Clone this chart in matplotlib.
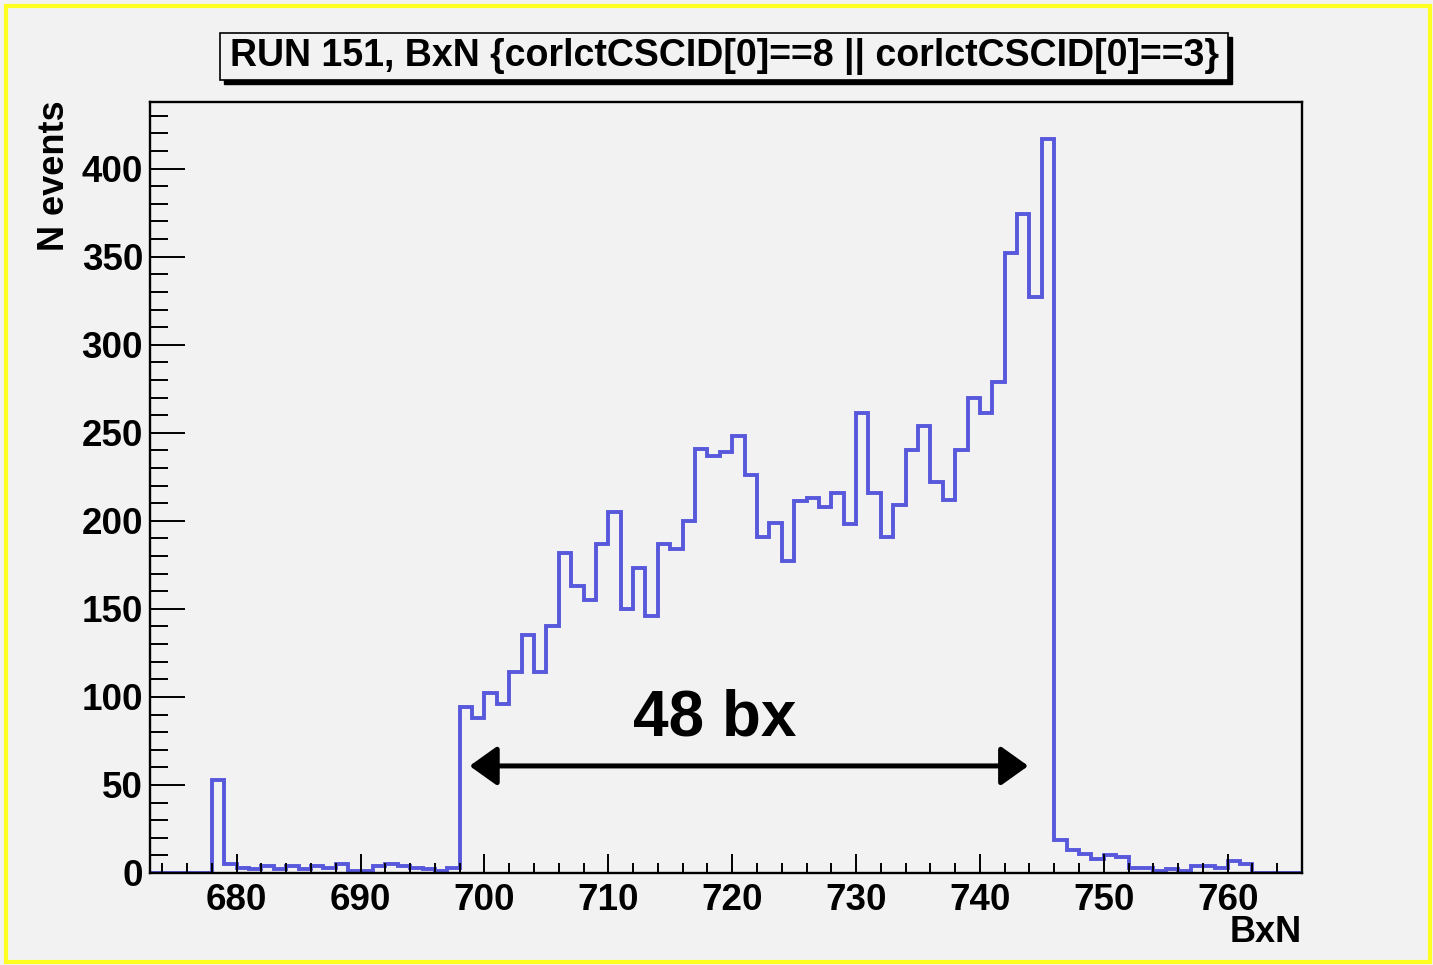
import numpy as np
import matplotlib
matplotlib.use("Agg")
import matplotlib.pyplot as plt
from matplotlib.patches import Rectangle
from matplotlib.ticker import MultipleLocator

# histogram bins: BxN from 673 to 766, width 1
bin_edges = np.arange(673, 767)
counts = [0, 0, 0, 0, 0, 53, 5, 3, 2, 4, 2, 4, 2, 4, 3, 5, 1, 1, 4, 5,
          4, 3, 2, 1, 3,
          94, 88, 102, 96, 114, 135, 114, 140, 182, 163, 155, 187, 205, 150,
          173, 146, 187, 184, 200, 241, 237, 239, 248, 226, 191, 199, 177,
          211, 213, 208, 216, 198, 261, 216, 191, 209, 240, 254, 222, 212,
          240, 270, 261, 279, 352, 374, 327, 417,
          19, 13, 11, 8, 10, 9, 3, 3, 1, 2, 1, 4, 4, 3, 7, 5, 0, 0, 0, 0]
title_text = "RUN 151, BxN {corlctCSCID[0]==8 || corlctCSCID[0]==3}"
arrow_from = 698.8
arrow_to = 743.9
arrow_y = 60.8
note_text = "48 bx"

bg = "#f2f2f2"
W, H = 1433, 965
plt.rcParams['font.family'] = ['Liberation Sans', 'DejaVu Sans']

fig = plt.figure(figsize=(W / 100, H / 100), dpi=100, facecolor=bg)
ax = fig.add_axes([150 / W, 1 - 873 / H, (1302 - 150) / W, (873 - 102) / H])
ax.set_facecolor(bg)

ax.stairs(counts, bin_edges, color="#5858dc", lw=2.8)

ax.set_xlim(673, 766)
ax.set_ylim(0, max(counts) * 1.05)

ax.xaxis.set_major_locator(MultipleLocator(10))
ax.xaxis.set_minor_locator(MultipleLocator(2))
ax.yaxis.set_major_locator(MultipleLocator(50))
ax.yaxis.set_minor_locator(MultipleLocator(10))
ax.tick_params(axis='x', which='major', direction='in', length=14, width=1.4, pad=7, labelsize=26.5)
ax.tick_params(axis='x', which='minor', direction='in', length=7, width=1.4)
ax.tick_params(axis='y', which='major', direction='in', length=25, width=1.4, pad=5, labelsize=26.5)
ax.tick_params(axis='y', which='minor', direction='in', length=13, width=1.4)
for lab in ax.get_xticklabels() + ax.get_yticklabels():
    lab.set_fontweight('bold')
for s in ax.spines.values():
    s.set_linewidth(1.7)

fig.text(55 / W, 1 - 100 / H, "N events", rotation=90, ha='center', va='top',
         fontsize=26, fontweight='bold')
fig.text(1302 / W, 1 - 932 / H, "BxN", ha='right', va='center',
         fontsize=26, fontweight='bold')

# arrow and label
ax.annotate('', xy=(arrow_from, arrow_y), xytext=(arrow_to, arrow_y),
            arrowprops=dict(arrowstyle='<|-|>,head_length=0.42,head_width=0.3',
                            lw=3.6, color='black', mutation_scale=40,
                            shrinkA=0, shrinkB=0))
ax.text(718.6, 88, note_text, ha='center', va='center', fontsize=46, fontweight='bold')

# title box with shadow, ROOT style
bx0, by0, bx1, by1 = 220, 33, 1228, 80
fig.patches.append(Rectangle(((bx0 + 4) / W, 1 - (by1 + 4) / H), (bx1 - bx0) / W, (by1 - by0) / H,
                             transform=fig.transFigure, facecolor='black', edgecolor='black', lw=1))
fig.patches.append(Rectangle((bx0 / W, 1 - by1 / H), (bx1 - bx0) / W, (by1 - by0) / H,
                             transform=fig.transFigure, facecolor=bg, edgecolor='black', lw=1.2))
fig.text((bx0 + bx1) / 2 / W, 1 - (by0 + by1) / 2 / H, title_text, ha='center', va='center',
         fontsize=27, fontweight='bold')

# yellow outer frame
fig.patches.append(Rectangle((6 / W, 3 / H), 1424 / W, 956 / H, transform=fig.transFigure,
                             facecolor='none', edgecolor='#ffff22', lw=3))

fig.savefig("out.png", dpi=100, facecolor=bg)
